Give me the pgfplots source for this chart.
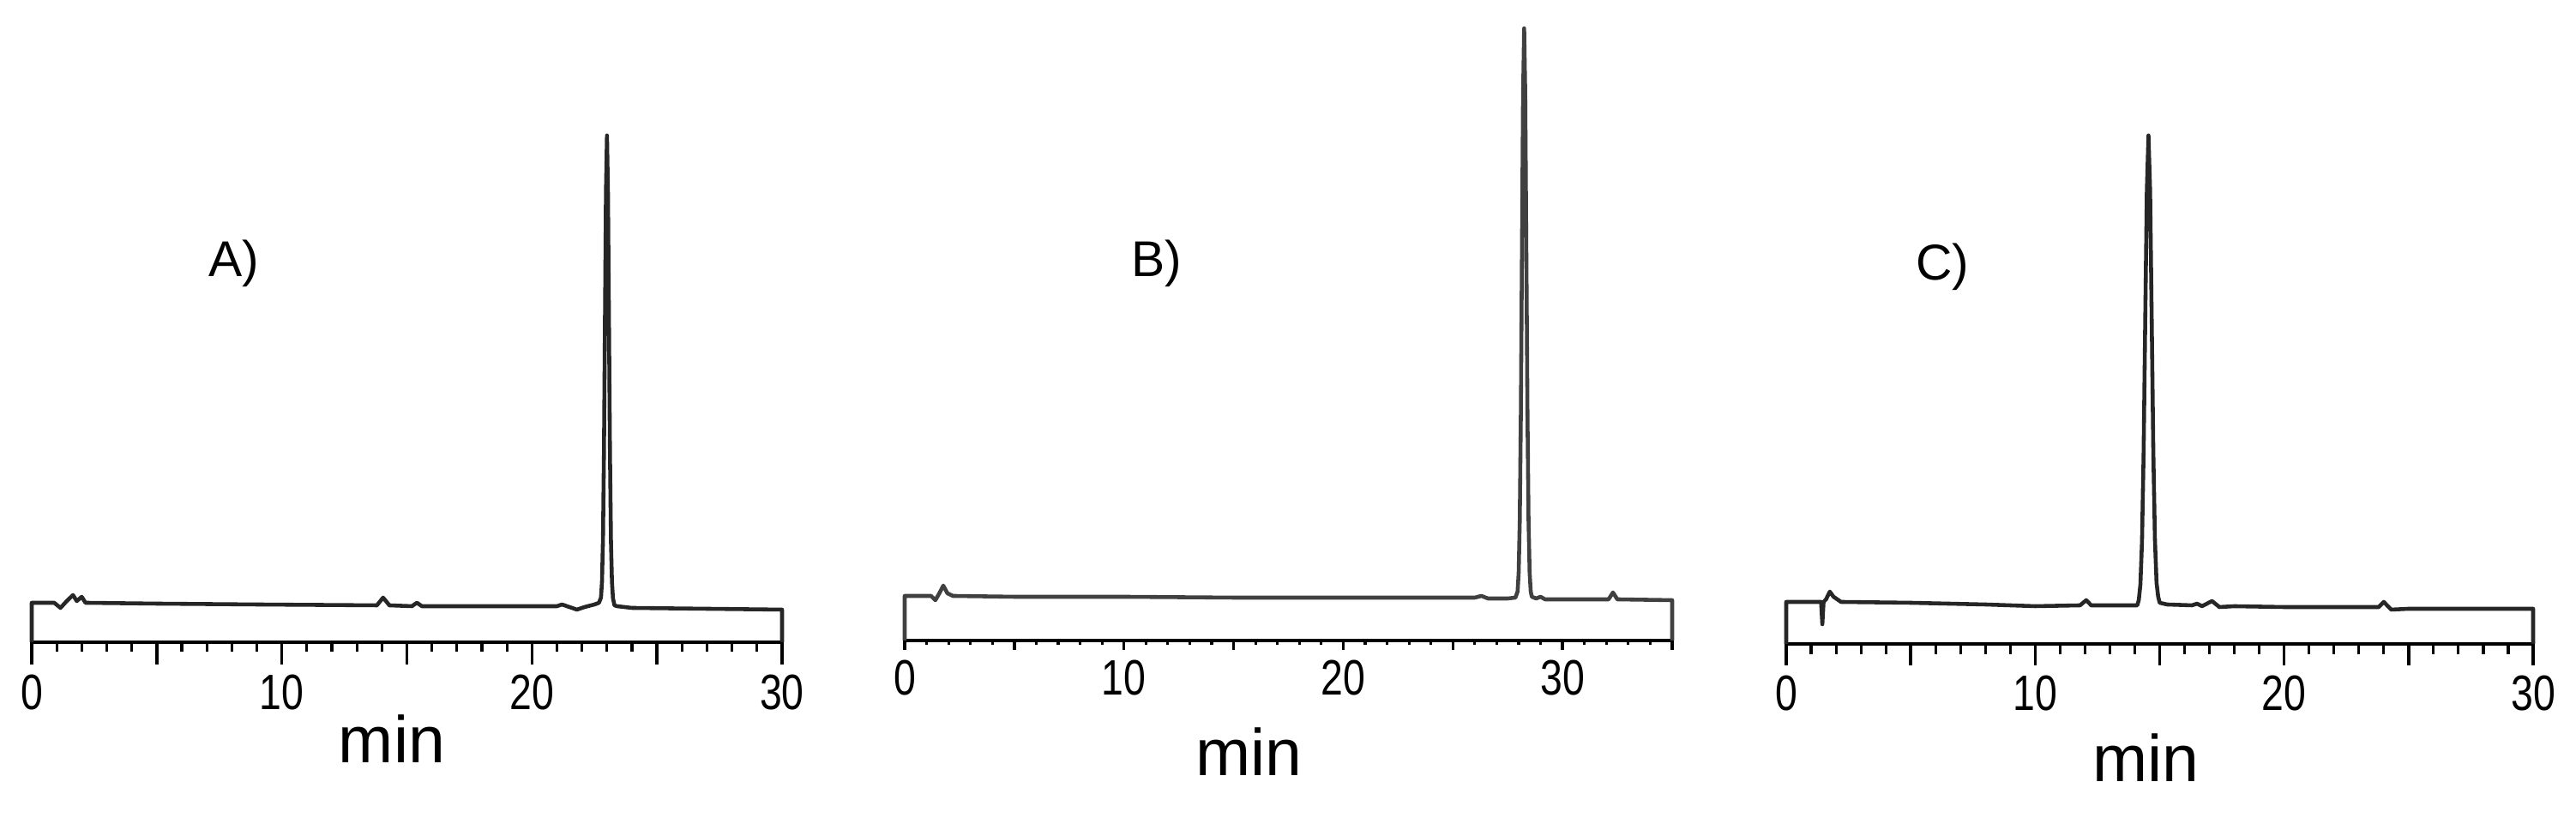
\documentclass[border=0pt]{standalone}
\usepackage{pgfplots}
\pgfplotsset{compat=1.18}
\usepackage{fontspec}
\setmainfont{Liberation Sans}
\newfontfamily\condfont[FakeStretch=0.8]{Liberation Sans}

\pgfplotsset{
  chrom/.style={
    scale only axis,
    axis x line=bottom, axis y line=none,
    x axis line style={-, line width=1.3pt},
    ymin=0, xmin=0,
    tick align=outside,
    xtick={0,10,20,30}, xticklabels={0,10,20,30},
    extra x tick labels={},
    major tick style={line width=1.0pt, black},
    minor tick style={line width=0.9pt, black},
    xticklabel style={font=\condfont\fontsize{16.5}{17}\selectfont},
    clip=false,
  },
  trace/.style={black!85, line width=1.3pt, line join=round, mark=none},
}

\begin{document}
\begin{tikzpicture}
\path[use as bounding box] (0,0) rectangle (30.04,9.54);

% A)
\begin{axis}[chrom, at={(0.37cm,2.05cm)}, anchor=south west,
  width=8.75cm, height=6.0cm, xmax=30, ymax=600,
  extra x ticks={5,15,25}, minor xtick={0,1,...,30},
  major tick length=2.6mm, minor tick length=1.1mm]
\addplot[trace] coordinates {
 (0,0) (0,46) (0.9,46) (1.15,40) (1.4,48) (1.65,55) (1.8,48) (2.0,53) (2.15,46)
 (5,45) (9,44) (13.8,43) (14.05,52) (14.3,43) (15.2,42) (15.4,46) (15.6,42)
 (18,42) (21.0,42) (21.2,44) (21.5,41) (21.8,38) (22.1,41) (22.5,44) (22.68,46)
 (22.76,52) (22.80,70) (22.84,120) (22.88,223) (22.92,377) (22.96,527) (23.00,591)
 (23.04,523) (23.08,373) (23.12,219) (23.16,116) (23.20,70) (23.24,51) (23.30,43)
 (23.4,42) (24,40) (27,39) (30,38) (30,0)
};
\end{axis}

% B)
\begin{axis}[chrom, at={(10.55cm,2.07cm)}, anchor=south west,
  width=8.95cm, height=7.2cm, xmax=35, ymax=720,
  extra x ticks={5,15,25,35}, minor xtick={0,1,...,35},
  major tick length=1.1mm, minor tick length=0.5mm]
\addplot[trace, black!75] coordinates {
 (0,0) (0,52) (1.2,52) (1.4,47) (1.6,56) (1.76,64) (1.95,55) (2.2,52)
 (5,51) (10,51) (15,50) (20,50) (25,50) (26.0,50) (26.3,52) (26.6,49) (27.5,49)
 (27.85,50) (27.95,57) (28.0,79) (28.05,140) (28.10,266) (28.15,453) (28.20,636)
 (28.25,714) (28.30,636) (28.35,453) (28.40,266) (28.45,140) (28.50,79) (28.55,57)
 (28.6,51) (28.8,49) (29.0,51) (29.2,48) (32.1,48) (32.3,56) (32.5,48) (35,47) (35,0)
};
\end{axis}

% C)
\begin{axis}[chrom, at={(20.83cm,2.03cm)}, anchor=south west,
  width=8.71cm, height=6.0cm, xmax=30, ymax=600,
  extra x ticks={5,15,25}, minor xtick={0,1,...,30},
  major tick length=2.5mm, minor tick length=1.2mm]
\addplot[trace] coordinates {
 (0,0) (0,49) (1.4,49) (1.45,23) (1.5,49) (1.6,52) (1.75,61) (1.9,55) (2.2,49)
 (5,48) (8,46) (10,44) (11.8,45) (12.05,51) (12.25,45) (14.0,45)
 (14.10,45) (14.16,51) (14.225,69) (14.29,119) (14.355,223) (14.42,378) (14.485,529)
 (14.55,593) (14.615,529) (14.68,378) (14.745,223) (14.81,121) (14.875,71) (14.94,55)
 (15.0,48) (15.3,46) (16.3,45) (16.5,47) (16.7,44) (17.1,50) (17.4,43) (18,44)
 (20,43) (23.8,43) (24.0,49) (24.3,40) (25,41) (30,41) (30,0)
};
\end{axis}

\node[font=\fontsize{16.7}{20}\selectfont] at (2.73,6.47) {A)};
\node[font=\fontsize{16.7}{20}\selectfont] at (13.49,6.47) {B)};
\node[font=\fontsize{16.7}{20}\selectfont] at (22.65,6.43) {C)};
\node[anchor=base, font=\fontsize{21.9}{24}\selectfont] at (4.57,0.64) {min};
\node[anchor=base, font=\fontsize{21.9}{24}\selectfont] at (14.56,0.49) {min};
\node[anchor=base, font=\fontsize{21.9}{24}\selectfont] at (25.02,0.42) {min};
\end{tikzpicture}
\end{document}
